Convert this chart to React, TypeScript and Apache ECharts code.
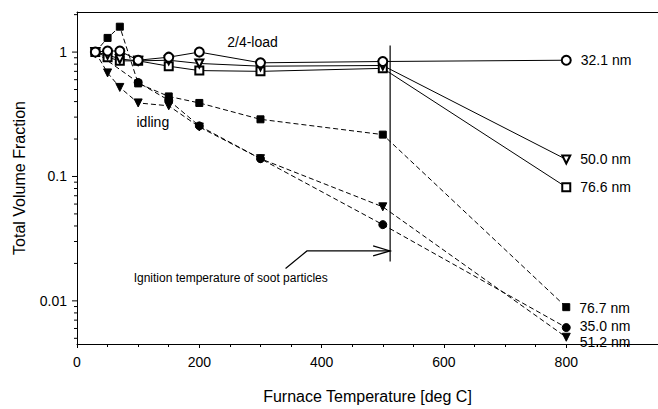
import React, { useEffect, useRef } from 'react';
import * as echarts from 'echarts';

// Furnace temperatures (deg C)
const temps = [30, 50, 70, 100, 150, 200, 300, 500, 800];
const tempsFilledCircle = [30, 100, 150, 200, 300, 500, 800];

// Total volume fraction per particle size
const open32_1 = [1, 1.02, 1.02, 0.86, 0.91, 1.0, 0.82, 0.84, 0.86];
const open50_0 = [1, 0.95, 0.88, 0.85, 0.86, 0.81, 0.77, 0.78, 0.137];
const open76_6 = [1, 0.91, 0.85, 0.85, 0.77, 0.71, 0.7, 0.74, 0.082];
const filled76_7 = [1, 1.3, 1.6, 0.56, 0.44, 0.39, 0.288, 0.217, 0.0089];
const filled35_0 = [1, 0.57, 0.41, 0.255, 0.139, 0.041, 0.0061];
const filled51_2 = [1, 0.68, 0.52, 0.39, 0.37, 0.25, 0.139, 0.057, 0.0051];

const xTickLabels = [0, 200, 400, 600, 800];
const yMajorTicks = [0.01, 0.1, 1];

// Annotation anchors in data coordinates
const ignitionTemp = 512;
const ignitionTop = 1.13;
const ignitionBottom = 0.0207;
const arrowPath = [
  [341, 0.0182],
  [376, 0.0252],
  [512, 0.0252],
];
const ignitionText = { x: 410, y: 0.0152, text: 'Ignition temperature of soot particles' };
const loadText = { x: 287, y: 1.196, text: '2/4-load' };
const idlingText = { x: 124, y: 0.272, text: 'idling' };

const FONT = '"Liberation Sans", Arial, Helvetica, sans-serif';

export default function App() {
  const ref = useRef<HTMLDivElement>(null);

  useEffect(() => {
    document.body.style.margin = '0';
    const chart = echarts.init(ref.current!, null, { renderer: 'svg' });

    const mk = (
      name: string,
      xs: number[],
      ys: number[],
      symbol: string,
      size: number,
      dashed: boolean,
      rotate: number,
      labelOffset: number[],
      z: number
    ) => ({
      type: 'line',
      name,
      z,
      data: xs.map((x, i) =>
        i === xs.length - 1
          ? {
              value: [x, ys[i]],
              label: {
                show: true,
                position: 'right',
                distance: 9,
                formatter: name,
                offset: labelOffset,
                color: '#000',
                fontFamily: FONT,
                fontSize: 14,
                lineHeight: 14,
              },
            }
          : [x, ys[i]]
      ),
      symbol,
      symbolSize: size,
      symbolRotate: rotate,
      showAllSymbol: true,
      lineStyle: { color: '#000', width: 1, type: dashed ? [5, 3] : 'solid' },
      itemStyle: { color: '#000', borderColor: '#000', borderWidth: 1 },
      emphasis: { disabled: true },
    });

    const option: any = {
      animation: false,
      backgroundColor: '#fff',
      grid: { left: 77, right: -3, top: 12, bottom: 64 },
      xAxis: [
        {
          type: 'value',
          min: 0,
          max: 950,
          interval: 200,
          name: 'Furnace Temperature [deg C]',
          nameLocation: 'middle',
          nameGap: 44,
          nameTextStyle: { color: '#000', fontFamily: FONT, fontSize: 16 },
          axisLine: { show: true, lineStyle: { color: '#000', width: 1 } },
          axisTick: { show: true, length: 4, lineStyle: { color: '#000' } },
          minorTick: { show: true, splitNumber: 4, length: 3, lineStyle: { color: '#000' } },
          splitLine: { show: false },
          axisLabel: {
            color: '#000',
            fontFamily: FONT,
            fontSize: 14,
            margin: 11,
            showMaxLabel: false,
            formatter: (v: number) => (xTickLabels.includes(v) ? String(v) : ''),
          },
        },
        {
          type: 'value',
          position: 'top',
          min: 0,
          max: 950,
          axisLine: { show: true, lineStyle: { color: '#000', width: 1 } },
          axisTick: { show: false },
          axisLabel: { show: false },
          splitLine: { show: false },
        },
      ],
      yAxis: {
        type: 'log',
        min: 0.0045,
        max: 2.1,
        name: 'Total Volume Fraction',
        nameLocation: 'middle',
        nameGap: 50,
        nameTextStyle: { color: '#000', fontFamily: FONT, fontSize: 16 },
        axisLine: { show: true, lineStyle: { color: '#000', width: 1 } },
        axisTick: { show: false },
        splitLine: { show: false },
        axisLabel: {
          color: '#000',
          fontFamily: FONT,
          fontSize: 14,
          margin: 10,
          showMinLabel: false,
          showMaxLabel: false,
          formatter: (v: number) => {
            const m = yMajorTicks.find((t) => Math.abs(t - v) / t < 1e-6);
            return m !== undefined ? String(m) : '';
          },
        },
      },
      series: [
        mk('76.7 nm', temps, filled76_7, 'rect', 7, true, 0, [0, 1], 3),
        mk('35.0 nm', tempsFilledCircle, filled35_0, 'circle', 8, true, 0, [0, -2], 3),
        mk('51.2 nm', temps, filled51_2, 'triangle', 8, true, 180, [0, 5], 3),
        mk('76.6 nm', temps, open76_6, 'emptyRect', 8, false, 0, [0, 0], 4),
        mk('50.0 nm', temps, open50_0, 'emptyTriangle', 8, false, 180, [0, 0], 4),
        mk('32.1 nm', temps, open32_1, 'emptyCircle', 9, false, 0, [0, 0], 5),
      ],
    };

    chart.setOption(option);

    const px = (x: number, y: number) => chart.convertToPixel({ gridIndex: 0 }, [x, y]) as number[];
    const graphics: any[] = [];

    // y minor and major ticks (log decades)
    const axisX = px(0, 1)[0];
    for (let e = -3; e <= 0; e++) {
      for (let k = 1; k <= 9; k++) {
        const v = k * Math.pow(10, e);
        if (v < 0.0045 || v > 2.1) continue;
        const y = px(0, v)[1];
        const len = k === 1 ? 5 : 3;
        graphics.push({
          type: 'line',
          shape: { x1: axisX - len, y1: y, x2: axisX, y2: y },
          style: { stroke: '#000', lineWidth: 1 },
          z: 10,
        });
      }
    }

    // ignition vertical line
    const vt = px(ignitionTemp, ignitionTop);
    const vb = px(ignitionTemp, ignitionBottom);
    graphics.push({
      type: 'line',
      shape: { x1: vt[0], y1: vt[1], x2: vb[0], y2: vb[1] },
      style: { stroke: '#000', lineWidth: 1.2 },
      z: 10,
    });

    // arrow
    const ap = arrowPath.map(([x, y]) => px(x, y));
    graphics.push({
      type: 'polyline',
      shape: { points: ap },
      style: { stroke: '#000', lineWidth: 1.2, fill: null },
      z: 10,
    });
    const tip = ap[ap.length - 1];
    graphics.push({
      type: 'polyline',
      shape: {
        points: [
          [tip[0] - 17, tip[1] - 5],
          [tip[0], tip[1]],
          [tip[0] - 17, tip[1] + 5],
        ],
      },
      style: { stroke: '#000', lineWidth: 1.2, fill: null },
      z: 10,
    });

    const txt = (t: { x: number; y: number; text: string }, align: string, size: number) => {
      const p = px(t.x, t.y);
      graphics.push({
        type: 'text',
        x: p[0],
        y: p[1],
        style: {
          text: t.text,
          fill: '#000',
          font: `${size}px ${FONT}`,
          align,
          verticalAlign: 'middle',
        },
        z: 10,
      });
    };
    txt(ignitionText, 'right', 12);
    txt(loadText, 'center', 14);
    txt(idlingText, 'center', 14);

    chart.setOption({ graphic: graphics });

    return () => chart.dispose();
  }, []);

  return <div ref={ref} style={{ width: 658, height: 409 }} />;
}
